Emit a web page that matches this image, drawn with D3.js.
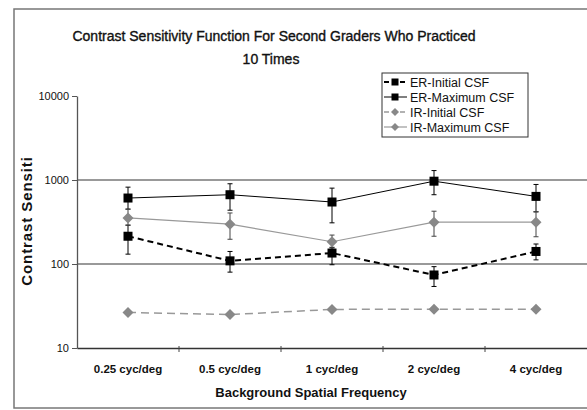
<!DOCTYPE html>
<html><head><meta charset="utf-8">
<script src="https://cdn.jsdelivr.net/npm/d3@7/dist/d3.min.js"></script>
<style>body{margin:0;background:#fff}svg{display:block}</style>
</head><body>
<svg id="c" width="587" height="410"></svg>
<script>
const categories = ["0.25 cyc/deg","0.5 cyc/deg","1 cyc/deg","2 cyc/deg","4 cyc/deg"];
const yTicks = [10,100,1000,10000];
const seriesNames = ["ER-Initial CSF","ER-Maximum CSF","IR-Initial CSF","IR-Maximum CSF"];
const erInitial = [214,109,135,74,141];
const erInitialHi = [290,141,158,93,173];
const erInitialLo = [131,80,98,54,112];
const erMax = [610,668,547,968,638];
const erMaxHi = [822,902,800,1295,885];
const erMaxLo = [450,437,309,668,417];
const irInitial = [26.5,25,28.8,29,29];
const irMax = [354,298,184,315,315];
const irMaxHi = [450,405,221,425,420];
const irMaxLo = [290,197,155,214,211];

const FF = "Liberation Sans, Arial, sans-serif";
const svg = d3.select("#c");
const L=77, R=587, T=96, B=348;
const x = d3.scaleBand().domain(categories).range([L,R]);
const y = d3.scaleLog().domain([10,10000]).range([B,T]);

// outer frame
svg.append("rect").attr("x",14).attr("y",9).attr("width",600).attr("height",399)
  .attr("fill","none").attr("stroke","#777").attr("stroke-width",1.5);

// title
svg.append("text").attr("x",274).attr("y",41).attr("text-anchor","middle")
  .style("font-family",FF).style("font-size","14px").attr("fill","#111")
  .attr("stroke","#111").attr("stroke-width",0.35)
  .text("Contrast Sensitivity Function For Second Graders Who Practiced");
svg.append("text").attr("x",271).attr("y",64).attr("text-anchor","middle")
  .style("font-family",FF).style("font-size","14px").attr("fill","#111")
  .attr("stroke","#111").attr("stroke-width",0.35)
  .text("10 Times");

// gridlines
svg.append("g").selectAll("line").data([100,1000]).join("line")
  .attr("x1",L).attr("x2",R).attr("y1",d=>y(d)).attr("y2",d=>y(d))
  .attr("stroke","#777").attr("stroke-width",1.3);

// y axis
const yAxis = d3.axisLeft(y).tickValues(yTicks).tickFormat(d3.format("d")).tickSize(5).tickSizeOuter(0);
const gy = svg.append("g").attr("transform",`translate(${L},0)`).call(yAxis);
gy.select(".domain").attr("stroke","#555").attr("stroke-width",1.3);
gy.selectAll(".tick line").attr("stroke","#555");
gy.selectAll("text").style("font-family",FF).style("font-size","11px").attr("fill","#111").attr("x",-8);

// x axis
const xAxis = d3.axisBottom(x).tickSize(0).tickSizeOuter(0);
const gx = svg.append("g").attr("transform",`translate(0,${B})`).call(xAxis);
gx.select(".domain").attr("stroke","#333").attr("stroke-width",1.3);
gx.selectAll("text").style("font-family",FF).style("font-size","11.5px").style("font-weight","bold").attr("fill","#111").attr("dy","0").attr("y",25);
// category boundary ticks
svg.append("g").selectAll("line").data(categories.slice(1)).join("line")
  .attr("x1",d=>x(d)).attr("x2",d=>x(d)).attr("y1",B-2).attr("y2",B+4).attr("stroke","#444");

// axis titles
svg.append("text").attr("x",311).attr("y",397).attr("text-anchor","middle")
  .style("font-family",FF).style("font-size","13px").style("font-weight","bold").attr("fill","#111")
  .text("Background Spatial Frequency");
svg.append("text").attr("transform","translate(32,221) rotate(-90)").attr("text-anchor","middle")
  .style("font-family",FF).style("font-size","15px").style("font-weight","bold").style("letter-spacing","0.9px").attr("fill","#111")
  .text("Contrast Sensiti");

const cx = i => x(categories[i]) + x.bandwidth()/2;

const series = [
  {name:seriesNames[0], v:erInitial, hi:erInitialHi, lo:erInitialLo, color:"#000", w:2, dash:"6,4", mark:"square", ecol:"#000"},
  {name:seriesNames[1], v:erMax, hi:erMaxHi, lo:erMaxLo, color:"#000", w:1, dash:null, mark:"square", ecol:"#000"},
  {name:seriesNames[2], v:irInitial, hi:null, lo:null, color:"#999", w:1.5, dash:"8,5", mark:"diamond", ecol:"#444"},
  {name:seriesNames[3], v:irMax, hi:irMaxHi, lo:irMaxLo, color:"#999", w:1.2, dash:null, mark:"diamond", ecol:"#444"}
];

const line = d3.line().x((d,i)=>cx(i)).y(d=>y(d));
series.forEach(s=>{
  svg.append("path").datum(s.v).attr("d",line).attr("fill","none")
    .attr("stroke",s.color).attr("stroke-width",s.w).attr("stroke-dasharray",s.dash);
});
series.forEach(s=>{
  if(!s.hi) return;
  const g = svg.append("g").attr("stroke",s.ecol).attr("stroke-width",1);
  s.v.forEach((v,i)=>{
    g.append("line").attr("x1",cx(i)).attr("x2",cx(i)).attr("y1",y(s.hi[i])).attr("y2",y(s.lo[i]));
    g.append("line").attr("x1",cx(i)-2.5).attr("x2",cx(i)+2.5).attr("y1",y(s.hi[i])).attr("y2",y(s.hi[i]));
    g.append("line").attr("x1",cx(i)-2.5).attr("x2",cx(i)+2.5).attr("y1",y(s.lo[i])).attr("y2",y(s.lo[i]));
  });
});
function drawMark(sel, type, px, py, big){
  if(type==="square"){
    const h = big?4.5:3.5;
    sel.append("rect").attr("x",px-h).attr("y",py-h).attr("width",2*h).attr("height",2*h).attr("fill","#000");
  } else {
    const h = big?5.5:4;
    sel.append("path").attr("d",`M${px},${py-h}L${px+h},${py}L${px},${py+h}L${px-h},${py}Z`).attr("fill","#888");
  }
}
series.forEach(s=>{
  const g = svg.append("g");
  s.v.forEach((v,i)=>drawMark(g,s.mark,cx(i),y(v),true));
});

// legend
const lg = svg.append("g");
lg.append("rect").attr("x",382).attr("y",73).attr("width",146).attr("height",64).attr("fill","#fff").attr("stroke","#333").attr("stroke-width",1);
series.forEach((s,i)=>{
  const ly = 82 + i*15;
  lg.append("line").attr("x1",384).attr("x2",407).attr("y1",ly).attr("y2",ly)
    .attr("stroke",s.color).attr("stroke-width",s.w).attr("stroke-dasharray",s.dash?"5,3":null);
  drawMark(lg,s.mark,395,ly,false);
  lg.append("text").attr("x",410).attr("y",ly+4.5).style("font-family",FF).style("font-size","12.5px").attr("fill","#111").text(s.name);
});
</script>
</body></html>
